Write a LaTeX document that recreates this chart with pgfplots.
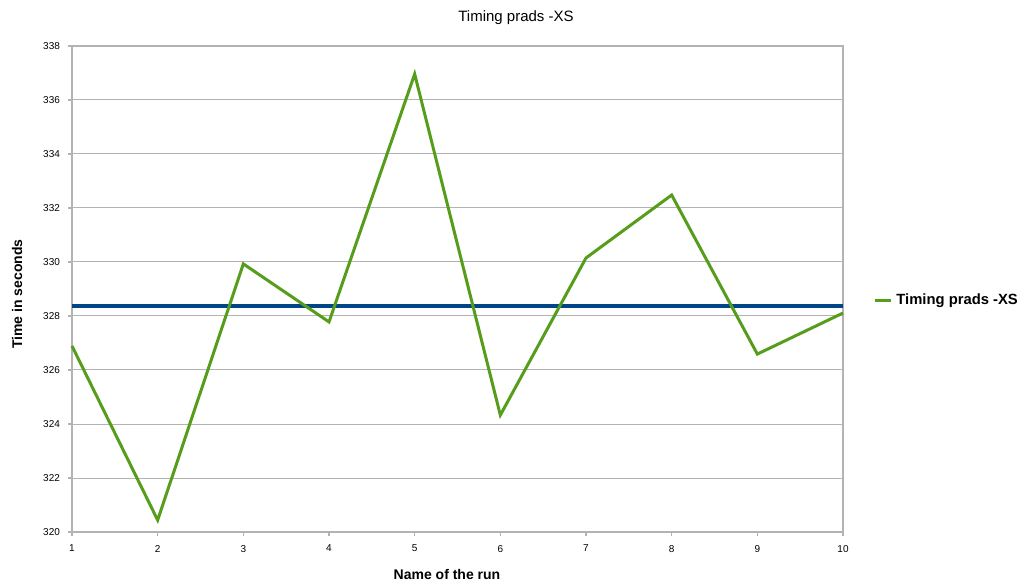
\documentclass[border=0pt]{standalone}
\usepackage{pgfplots}
\pgfplotsset{compat=1.18}
\usepackage{fontspec}
\setmainfont{Liberation Sans}
\definecolor{lgreen}{HTML}{579D1C}
\definecolor{lblue}{HTML}{004586}
\definecolor{lgrid}{HTML}{B3B3B3}
\begin{document}
\begin{tikzpicture}
\useasboundingbox (0pt,0pt) rectangle (510pt,291.5pt);
\begin{axis}[
  at={(36pt,25.5pt)}, anchor=south west,
  scale only axis, width=385.5pt, height=243pt,
  xmin=1, xmax=10, ymin=320, ymax=338,
  xtick={1,...,10}, ytick={320,322,...,338},
  ymajorgrids, major grid style={lgrid, line width=0.5pt},
  axis line style={lgrid, line width=0.6pt},
  tick style={lgrid, line width=0.6pt},
  tick align=outside, major tick length=2pt,
  xtick pos=bottom, ytick pos=left,
  tick label style={font=\fontsize{5}{6}\selectfont, text=black},
  /pgf/number format/assume math mode=true,
  /pgf/number format/1000 sep={},
  xticklabel style={yshift=-1pt},
  yticklabel style={xshift=-0.5pt},
  clip=false,
  legend style={at={(rel axis cs:1,0.5)}, anchor=west, xshift=12pt, yshift=-6pt, draw=none, fill=none,
    font=\fontsize{7.4}{8.5}\selectfont\bfseries},
  legend image code/.code={\draw[#1, line width=1.5pt] (0pt,0pt) -- (8pt,0pt);},
]
\addplot[lblue, line width=2pt, forget plot] coordinates {(1,328.37) (10,328.37)};
\addplot[lgreen, line width=1.5pt, line join=miter] coordinates {
(1,326.89) (2,320.44) (3,329.93) (4,327.78) (5,336.96)
(6,324.33) (7,330.15) (8,332.48) (9,326.59) (10,328.11)};
\addlegendentry{Timing prads -XS}
\end{axis}
\node[font=\fontsize{7.5}{9}\selectfont] at (258pt,282.5pt) {Timing prads -XS};
\node[font=\fontsize{7}{8}\selectfont\bfseries] at (223.5pt,4.5pt) {Name of the run};
\node[font=\fontsize{7}{8}\selectfont\bfseries, rotate=90] at (8.5pt,144.5pt) {Time in seconds};
\end{tikzpicture}
\end{document}
